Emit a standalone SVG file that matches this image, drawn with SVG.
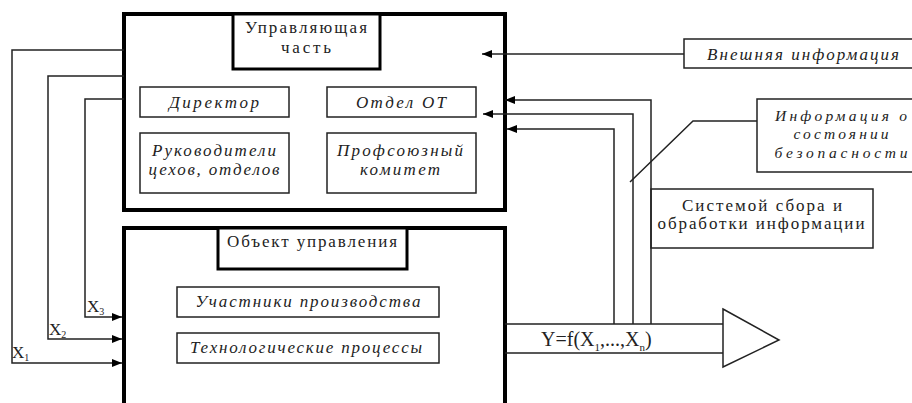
<svg xmlns="http://www.w3.org/2000/svg" width="912" height="403" viewBox="0 0 912 403">
<defs>
<marker id="ah" viewBox="0 0 10 8" refX="10" refY="4" markerWidth="10" markerHeight="8" markerUnits="userSpaceOnUse" orient="auto">
<path d="M0,0 L10,4 L0,8 Z" fill="#000"/>
</marker>
</defs>
<style>
.big{fill:#fff;stroke:#000;stroke-width:4}
.ttl{fill:#fff;stroke:#000;stroke-width:3}
.sub{fill:#fff;stroke:#222;stroke-width:1.5}
.ln{fill:none;stroke:#222;stroke-width:1.5}
.t{font-family:"Liberation Serif",serif;font-size:17px;fill:#222;text-anchor:middle}
.i{font-family:"Liberation Serif",serif;font-size:17px;font-style:italic;fill:#222;text-anchor:middle}
.sm{font-size:15.5px}
.s{text-anchor:start}
</style>
<rect width="912" height="403" fill="#fff"/>
<g id="control">
<rect class="big" x="124" y="14" width="381" height="196"/>
</g>
<g id="control-title">
<rect class="ttl" x="233" y="14" width="147" height="55"/>
<text class="t" x="306" y="33" textLength="122" lengthAdjust="spacing">Управляющая</text>
<text class="t" x="306" y="53" textLength="50" lengthAdjust="spacing">часть</text>
</g>
<g id="director">
<rect class="sub" x="140" y="87" width="149" height="30"/>
<text class="i" x="214" y="108" textLength="90" lengthAdjust="spacing">Директор</text>
</g>
<g id="ot">
<rect class="sub" x="327" y="87" width="149" height="30"/>
<text class="i" x="401" y="108" textLength="90" lengthAdjust="spacing">Отдел ОТ</text>
</g>
<g id="heads">
<rect class="sub" x="140" y="133" width="149" height="60"/>
<text class="i" x="214" y="156" textLength="124" lengthAdjust="spacing">Руководители</text>
<text class="i" x="214" y="175" textLength="131" lengthAdjust="spacing">цехов, отделов</text>
</g>
<g id="union">
<rect class="sub" x="327" y="133" width="149" height="60"/>
<text class="i" x="400" y="156" textLength="126" lengthAdjust="spacing">Профсоюзный</text>
<text class="i" x="400" y="175" textLength="80" lengthAdjust="spacing">комитет</text>
</g>
<g id="object">
<rect class="big" x="124" y="228" width="381" height="185"/>
</g>
<g id="object-title">
<rect class="ttl" x="218" y="228" width="189" height="41"/>
<text class="t" x="312" y="247" textLength="170" lengthAdjust="spacing">Объект управления</text>
</g>
<g id="participants">
<rect class="sub" x="177" y="287" width="262" height="30"/>
<text class="i" x="308" y="307" textLength="225" lengthAdjust="spacing">Участники производства</text>
</g>
<g id="processes">
<rect class="sub" x="177" y="333" width="262" height="30"/>
<text class="i" x="306" y="353" textLength="232" lengthAdjust="spacing">Технологические процессы</text>
</g>
<g id="external">
<rect class="sub" x="684" y="39" width="232" height="29"/>
<text class="i" x="803" y="60" textLength="192" lengthAdjust="spacing">Внешняя информация</text>
</g>
<g id="safety">
<rect class="sub" x="757" y="99" width="159" height="73"/>
<text class="i sm" x="841" y="121" textLength="132" lengthAdjust="spacing">Информация о</text>
<text class="i sm" x="841" y="139" textLength="95" lengthAdjust="spacing">состоянии</text>
<text class="i sm" x="841" y="158" textLength="133" lengthAdjust="spacing">безопасности</text>
</g>
<g id="collect">
<rect class="sub" x="651" y="189" width="222" height="59"/>
<text class="t" x="762" y="211" textLength="160" lengthAdjust="spacing">Системой сбора и</text>
<text class="t" x="761" y="229" textLength="207" lengthAdjust="spacing">обработки информации</text>
</g>
<g id="output">
<path class="ln" d="M505,324 L723,324 M505,353 L723,353"/>
<path class="ln" d="M723,309 L779,340 L723,367 Z" fill="#fff"/>
<text class="t s" x="541" y="346" style="font-size:20px">Y=f(X<tspan style="font-size:11px" dy="5">1</tspan><tspan dy="-5">,...,X</tspan><tspan style="font-size:11px" dy="5">n</tspan><tspan dy="-5">)</tspan></text>
</g>
<g id="connectors">
<path class="ln" d="M124,50 L12,50 L12,363 L122,363" marker-end="url(#ah)"/>
<path class="ln" d="M124,76 L48,76 L48,339 L122,339" marker-end="url(#ah)"/>
<path class="ln" d="M124,99 L85,99 L85,317 L122,317" marker-end="url(#ah)"/>
<path class="ln" d="M684,54 L482,54" marker-end="url(#ah)"/>
<path class="ln" d="M651,324 L651,100 L505,100" marker-end="url(#ah)"/>
<path class="ln" d="M633,324 L633,114 L483,114" marker-end="url(#ah)"/>
<path class="ln" d="M614,324 L614,129 L507,129" marker-end="url(#ah)"/>
<path class="ln" d="M757,121 L693,121 L630,182"/>
<text class="t s" x="87" y="312">X<tspan style="font-size:10px" dy="3">3</tspan></text>
<text class="t s" x="49" y="335">X<tspan style="font-size:10px" dy="3">2</tspan></text>
<text class="t s" x="12" y="358">X<tspan style="font-size:10px" dy="3">1</tspan></text>
</g>
</svg>
